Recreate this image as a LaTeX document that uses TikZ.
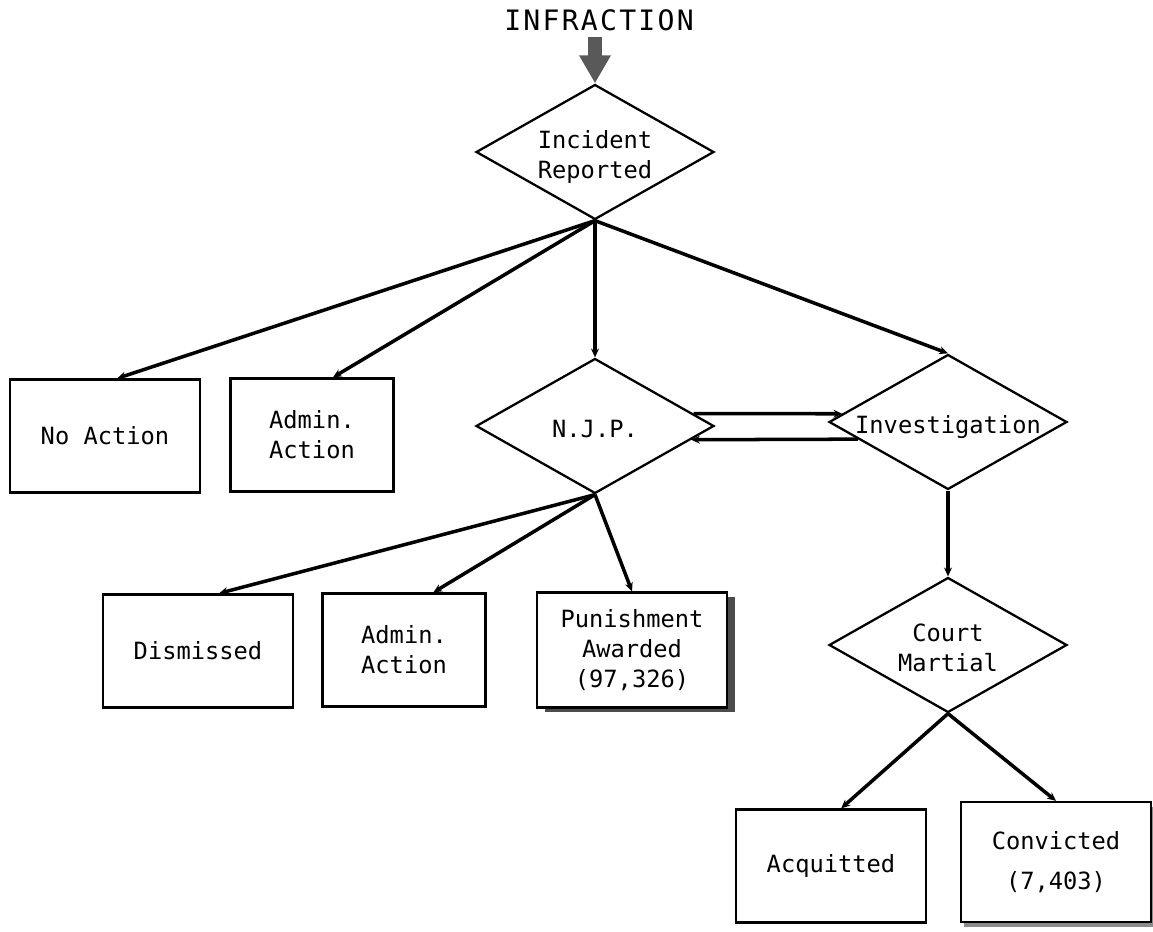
\documentclass[tikz,border=0pt]{standalone}
\usepackage{fontspec}
\newfontfamily\chartfont{DejaVu Sans Mono}
\newfontfamily\titlefont[LetterSpace=8]{DejaVu Sans Mono}
\usetikzlibrary{shapes.geometric,arrows.meta,calc,shadows}

% text of a diamond, kept from sizing the shape
\newcommand{\dtext}[1]{\makebox[0pt]{\raisebox{-.5em}[0pt][0pt]{\begin{tabular}{@{}c@{}}#1\end{tabular}}}}

\tikzset{
	decision/.style={diamond, draw, line width=1.3pt, inner sep=0pt, minimum width=4.76cm, minimum height=2.7cm},
	outcome/.style={rectangle, draw, fill=white, line width=1.3pt, inner sep=0pt, align=center, minimum width=3.8cm, minimum height=2.26cm},
	flow/.style={line width=2pt, -{Stealth[length=5pt,width=4.5pt]}},
	heavy/.style={line width=8pt, black!65, -{Triangle[length=16pt,width=17pt]}},
}

\begin{document}
\begin{tikzpicture}[x=0.02cm,y=-0.02cm, font=\chartfont\fontsize{13.5}{17}\selectfont]
	\useasboundingbox (0,0) rectangle (1153,932);

	\node[font=\titlefont\fontsize{16}{19}\selectfont] (infraction) at (599,20) {INFRACTION};

	% decisions
	\node[decision] (incident) at (595,152) {\dtext{Incident\\Reported}};
	\node[decision] (njp) at (595,426) {\dtext{N.J.P.}};
	\node[decision] (invest) at (948,422) {\dtext{Investigation}};
	\node[decision] (court) at (948,645) {\dtext{Court\\Martial}};

	% outcomes
	\node[outcome] (noaction) at (105,436) {No Action};
	\node[outcome, minimum width=3.26cm] (admin1) at (312,435) {Admin.\\Action};
	\node[outcome] (dismissed) at (198,651) {Dismissed};
	\node[outcome, minimum width=3.26cm] (admin2) at (404,650) {Admin.\\Action};
	\node[outcome, minimum height=2.3cm, drop shadow={shadow xshift=0.16cm, shadow yshift=-0.09cm, fill=black!70, opacity=1}] (punish) at (632,650) {Punishment\\Awarded\\(97,326)};
	\node[outcome] (acquit) at (831,866) {Acquitted};
	\node[outcome, minimum height=2.4cm, drop shadow={shadow xshift=0.06cm, shadow yshift=-0.1cm, fill=black!45, opacity=1}] (convict) at (1056,862) {Convicted\\[6pt](7,403)};

	\draw[heavy] (incident.north |- infraction.south) -- (incident.north);

	\draw[flow] (incident.south) -- (noaction.78);
	\draw[flow] (incident.south) -- (admin1.70);
	\draw[flow] (incident.south) -- (njp.north);
	\draw[flow] (incident.south) -- (invest.north);

	\draw[flow] (njp.south) -- (dismissed.70);
	\draw[flow] (njp.south) -- (admin2.63);
	\draw[flow] (njp.south) -- (punish.north);

	\draw[flow] ($(njp.east)!0.18!(njp.north)$) -- ($(invest.west)!0.12!(invest.north)$);
	\draw[flow] ($(invest.west)!0.25!(invest.south)$) -- ($(njp.east)!0.2!(njp.south)$);

	\draw[flow] (invest.south) -- (court.north);
	\draw[flow] (court.south) -- (acquit.80);
	\draw[flow] (court.south) -- (convict.north);
\end{tikzpicture}
\end{document}
